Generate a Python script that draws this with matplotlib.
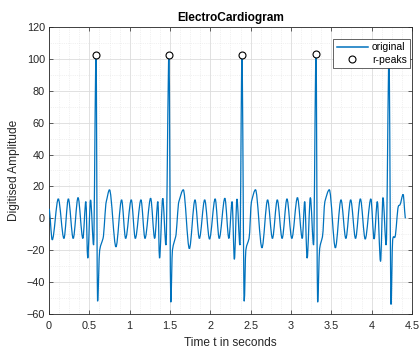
import numpy as np
import matplotlib
matplotlib.use('Agg')
import matplotlib.pyplot as plt
from matplotlib.ticker import MultipleLocator
from matplotlib.path import Path
from matplotlib.patches import PathPatch
from matplotlib.lines import Line2D

plt.rcParams['font.family'] = ['Liberation Sans', 'DejaVu Sans']

# ECG trace, extrema per beat (time in s, amplitude)
t_lead = [0.0, 0.04, 0.115, 0.185, 0.24, 0.30, 0.36, 0.42, 0.457, 0.48, 0.515, 0.553]
a_lead = [6, -13.5, 12.2, -12.6, 12.2, -12.6, 13, -12.6, 10.5, -25, 11.6, -16.8]

t_beat1 = [0.583, 0.602, 0.628, 0.67, 0.71, 0.75, 0.83, 0.90, 0.95, 1.02, 1.07, 1.14, 1.19,
           1.26, 1.31, 1.35, 1.37, 1.41, 1.45]
a_beat1 = [102.5, -52, -20, -12.6, 10.5, 17.9, -17.9, 11.6, -12.6, 11.6, -12.6, 11.6, -12.6,
           12.6, -12.6, 10.5, -25, 12.6, -16.8]

t_beat2 = [1.487, 1.51, 1.53, 1.57, 1.61, 1.665, 1.74, 1.81, 1.864, 1.93, 1.99, 2.06, 2.11,
           2.18, 2.23, 2.27, 2.298, 2.33, 2.367]
a_beat2 = [102.3, -52.6, -20, -11.6, 10.5, 17.9, -19, 11.6, -12.6, 11.6, -13, 12.2, -12.6,
           12.6, -12.6, 10.5, -25.7, 12.2, -16.8]

t_beat3 = [2.392, 2.42, 2.44, 2.48, 2.51, 2.56, 2.64, 2.71, 2.77, 2.83, 2.89, 2.95, 3.01,
           3.08, 3.14, 3.17, 3.20, 3.24, 3.28]
a_beat3 = [102.5, -52, -20, -12.6, 10.5, 17.9, -18.5, 11.6, -12.6, 11.6, -12.6, 12.2, -12.6,
           13, -12.6, 10.5, -25, 13, -16.8]

t_beat4 = [3.31, 3.33, 3.355, 3.39, 3.42, 3.475, 3.55, 3.62, 3.68, 3.74, 3.80, 3.86, 3.92,
           3.99, 4.03, 4.07, 4.11, 4.14, 4.18]
a_beat4 = [102.8, -52.6, -19, -11.6, 10.5, 17.9, -18.5, 11.6, -12.6, 11.6, -12.6, 12.2, -13,
           12.2, -13, 10.5, -27, 13, -16.8]

t_beat5 = [4.215, 4.24, 4.26, 4.29, 4.33, 4.35, 4.39, 4.42]
a_beat5 = [102.5, -54, -13.7, -11.6, 7.4, 8.4, 15, 0]

# detected r-peaks
r_t = [0.583, 1.487, 2.392, 3.31, 4.215]
r_amp = [102.5, 102.3, 102.5, 102.8, 102.5]

t = np.array(t_lead + t_beat1 + t_beat2 + t_beat3 + t_beat4 + t_beat5)
sig = np.array(a_lead + a_beat1 + a_beat2 + a_beat3 + a_beat4 + a_beat5)


def smooth_path(x, y):
    # bezier through the points: flat tangent at extrema, neighbour slope elsewhere
    n = len(x)
    m = np.zeros(n)
    for i in range(1, n - 1):
        if (y[i] - y[i-1]) * (y[i+1] - y[i]) > 0:
            m[i] = 0.5 * (y[i+1] - y[i-1]) / (x[i+1] - x[i-1])
    verts = [(x[0], y[0])]
    codes = [Path.MOVETO]
    for i in range(n - 1):
        d = (x[i+1] - x[i]) / 3
        verts += [(x[i] + d, y[i] + m[i] * d), (x[i+1] - d, y[i+1] - m[i+1] * d), (x[i+1], y[i+1])]
        codes += [Path.CURVE4] * 3
    return Path(verts, codes)


dark = '#262626'
blue = '#0072BD'

fig = plt.figure(figsize=(4.2, 3.48), dpi=100)
ax = fig.add_axes([49/420, 1 - 314/348, 363/420, 287/348])

ax.add_patch(PathPatch(smooth_path(t, sig), facecolor='none', edgecolor=blue,
                       linewidth=0.9, zorder=3))
ax.plot(r_t, r_amp, 'o', markersize=5, markerfacecolor='white', markeredgecolor='black',
        markeredgewidth=0.8, zorder=4)

ax.set_xlim(0, 4.5)
ax.set_ylim(-60, 120)
ax.xaxis.set_minor_locator(MultipleLocator(0.125))
ax.yaxis.set_major_locator(MultipleLocator(20))
ax.yaxis.set_minor_locator(MultipleLocator(10))
ax.set_xticks([0, 0.5, 1, 1.5, 2, 2.5, 3, 3.5, 4, 4.5])
ax.set_xticklabels(['0', '0.5', '1', '1.5', '2', '2.5', '3', '3.5', '4', '4.5'])

ax.grid(True, which='major', color='#dcdcdc', linewidth=0.6)
ax.grid(True, which='minor', color='#e4e4e4', linewidth=0.5, linestyle=':')
ax.set_axisbelow(True)

ax.tick_params(which='major', direction='in', top=True, right=True, length=2.6, width=0.5,
               colors=dark, labelsize=7.8)
ax.tick_params(axis='x', pad=5)
ax.tick_params(axis='y', pad=3)
ax.tick_params(which='minor', length=0)
for s in ax.spines.values():
    s.set_color(dark)
    s.set_linewidth(0.6)

ax.set_title('ElectroCardiogram', fontsize=8.6, fontweight='bold', color='black', pad=4)
ax.set_xlabel('Time t in seconds', fontsize=8.6, color=dark, labelpad=4)
ax.set_ylabel('Digitised Amplitude', fontsize=8.6, color=dark, labelpad=5)

handles = [Line2D([], [], color=blue, linewidth=1.1),
           Line2D([], [], linestyle='none', marker='o', markersize=5, markerfacecolor='white',
                  markeredgecolor='black', markeredgewidth=0.8)]
leg = ax.legend(handles, ['original', 'r-peaks'], loc='upper right',
                bbox_to_anchor=(0.9945, 0.958), borderaxespad=0,
                fontsize=7.5, fancybox=False, framealpha=1, edgecolor=dark,
                handlelength=3.0, handletextpad=0.4, borderpad=0.3, labelspacing=0.25)
leg.get_frame().set_linewidth(0.5)
leg.set_zorder(10)

fig.savefig('out.png', dpi=100, facecolor='white')
